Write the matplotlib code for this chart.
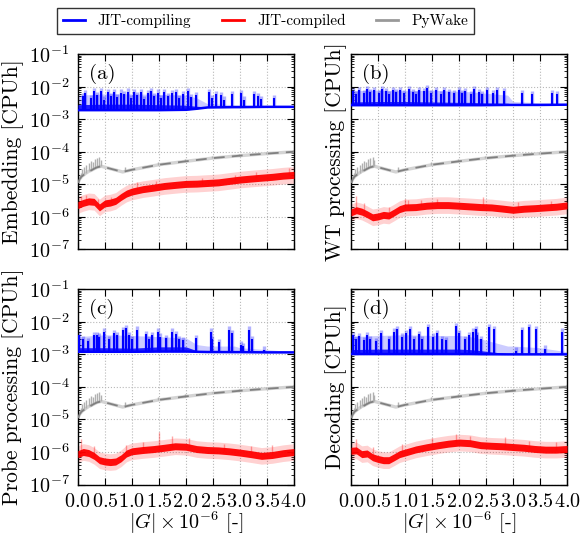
import numpy as np
import matplotlib
matplotlib.use('Agg')
import matplotlib.pyplot as plt
from matplotlib.lines import Line2D
from matplotlib.ticker import LogLocator, NullFormatter

plt.rcParams.update({
    'font.family': ['cmr10', 'DejaVu Serif'],
    'mathtext.fontset': 'cm',
    'axes.formatter.use_mathtext': True,
    'axes.unicode_minus': False,
})

# ---------------- data ----------------
panel_tags = ['(a)', '(b)', '(c)', '(d)']
ylabels = ['Embedding [CPUh]', 'WT processing [CPUh]',
           'Probe processing [CPUh]', 'Decoding [CPUh]']
series_names = ['JIT-compiling', 'JIT-compiled', 'PyWake']
xticks = [0.0, 0.5, 1.0, 1.5, 2.0, 2.5, 3.0, 3.5, 4.0]

# JIT-compiled (red) central values
RX = [0.0, 0.1, 0.2, 0.3, 0.4, 0.5, 0.6, 0.7, 0.8, 0.9, 1.0, 1.2, 1.4, 1.6,
      1.8, 2.0, 2.2, 2.4, 2.6, 2.8, 3.0, 3.2, 3.4, 3.6, 3.8, 4.0]
red_a = [2.3e-6, 2.7e-6, 3.0e-6, 2.9e-6, 1.95e-6, 2.6e-6, 2.75e-6, 3.1e-6, 4.1e-6,
         5.2e-6, 6.0e-6, 7.1e-6, 7.9e-6, 8.9e-6, 9.6e-6, 1.03e-5, 1.05e-5, 1.1e-5,
         1.15e-5, 1.27e-5, 1.4e-5, 1.5e-5, 1.6e-5, 1.7e-5, 1.85e-5, 1.95e-5]
red_b = [1.37e-6, 1.6e-6, 1.45e-6, 1.2e-6, 9.7e-7, 1.03e-6, 1.15e-6, 1.1e-6, 1.37e-6,
         1.73e-6, 1.95e-6, 2.0e-6, 2.2e-6, 2.3e-6, 2.3e-6, 2.2e-6, 2.1e-6, 2.0e-6,
         1.95e-6, 1.8e-6, 1.65e-6, 1.78e-6, 1.85e-6, 1.95e-6, 2.05e-6, 2.25e-6]
red_c = [8.6e-7, 1.0e-6, 9.3e-7, 7.6e-7, 5.6e-7, 5.1e-7, 4.9e-7, 5.1e-7, 6.4e-7,
         9.0e-7, 1.05e-6, 1.15e-6, 1.23e-6, 1.35e-6, 1.5e-6, 1.45e-6, 1.23e-6, 1.15e-6,
         1.12e-6, 1.05e-6, 9.6e-7, 8.6e-7, 7.6e-7, 8.1e-7, 9.2e-7, 1.0e-6]
red_d = [1.09e-6, 1.12e-6, 8.6e-7, 9.0e-7, 6.9e-7, 6.1e-7, 5.6e-7, 5.6e-7, 6.9e-7,
         8.6e-7, 9.6e-7, 1.2e-6, 1.4e-6, 1.6e-6, 1.8e-6, 1.95e-6, 1.87e-6, 1.62e-6,
         1.55e-6, 1.5e-6, 1.42e-6, 1.35e-6, 1.24e-6, 1.18e-6, 1.18e-6, 1.24e-6]
red_inner_spread = 1.28   # multiplicative spread of the dense band
red_outer_spread = 1.8    # multiplicative spread of the run-to-run band
red_spk_x = [[0.05, 0.15, 0.38, 0.62, 1.1, 1.45, 2.3, 2.9, 3.3, 3.9],
             [0.1, 0.25, 0.7, 1.0, 1.05, 1.3, 1.6, 2.45, 3.1, 3.7],
             [0.05, 0.3, 0.9, 1.2, 1.5, 1.75, 2.05, 2.7, 3.2, 3.6],
             [0.1, 0.4, 0.95, 1.5, 1.95, 2.2, 2.85, 3.3, 3.8]]
red_spk_y = [[4.5e-6, 4.8e-6, 3.5e-6, 4.2e-6, 1.2e-5, 1.3e-5, 1.6e-5, 1.9e-5, 2.4e-5, 3.2e-5],
             [4.5e-6, 2.6e-6, 2.0e-6, 3.6e-6, 3.2e-6, 3.4e-6, 3.5e-6, 4.2e-6, 2.8e-6, 3.0e-6],
             [2.5e-6, 1.5e-6, 1.6e-6, 2.0e-6, 4.0e-6, 3.0e-6, 2.6e-6, 1.8e-6, 1.5e-6, 1.6e-6],
             [2.5e-6, 1.4e-6, 1.8e-6, 2.6e-6, 3.6e-6, 3.0e-6, 2.8e-6, 2.2e-6, 2.0e-6]]

# JIT-compiling (blue)
BX = [0.0, 0.5, 1.0, 1.5, 2.0, 2.2, 2.4, 2.9, 3.0, 3.5, 4.0]
blue_base = [
    [1.9e-3, 1.9e-3, 1.9e-3, 1.9e-3, 1.95e-3, 2.1e-3, 2.3e-3, 2.35e-3, 2.35e-3, 2.4e-3, 2.4e-3],
    [2.7e-3, 2.7e-3, 2.7e-3, 2.7e-3, 2.7e-3, 2.7e-3, 2.7e-3, 2.75e-3, 2.75e-3, 2.75e-3, 2.8e-3],
    [1.2e-3, 1.2e-3, 1.2e-3, 1.22e-3, 1.22e-3, 1.2e-3, 1.18e-3, 1.17e-3, 1.17e-3, 1.15e-3, 1.15e-3],
    [1.02e-3, 1.02e-3, 1.02e-3, 1.02e-3, 1.02e-3, 1.02e-3, 1.01e-3, 1.0e-3, 1.0e-3, 1.0e-3, 1.0e-3],
]
blue_mass = [
    [2.8e-3, 2.9e-3, 2.9e-3, 2.8e-3, 2.7e-3, 2.5e-3, 2.4e-3, 2.4e-3, 2.4e-3, 2.45e-3, 2.45e-3],
    [3.4e-3, 3.5e-3, 3.5e-3, 3.4e-3, 3.3e-3, 3.3e-3, 3.2e-3, 3.1e-3, 2.9e-3, 2.85e-3, 2.85e-3],
    [1.6e-3, 1.6e-3, 1.55e-3, 1.7e-3, 1.7e-3, 1.3e-3, 1.25e-3, 1.22e-3, 1.2e-3, 1.18e-3, 1.18e-3],
    [1.4e-3, 1.45e-3, 1.45e-3, 1.45e-3, 1.45e-3, 1.4e-3, 1.3e-3, 1.05e-3, 1.05e-3, 1.03e-3, 1.03e-3],
]
blue_env = [
    [5.5e-3, 6.0e-3, 6.0e-3, 5.8e-3, 5.5e-3, 4.5e-3, 3.0e-3, 2.8e-3, 2.8e-3, 2.6e-3, 2.5e-3],
    [7.5e-3, 7.8e-3, 7.5e-3, 7.8e-3, 7.2e-3, 7.0e-3, 6.5e-3, 5.5e-3, 3.5e-3, 3.2e-3, 3.0e-3],
    [3.5e-3, 4.0e-3, 3.8e-3, 3.5e-3, 3.2e-3, 2.0e-3, 1.8e-3, 1.8e-3, 1.6e-3, 1.4e-3, 1.2e-3],
    [3.5e-3, 3.8e-3, 4.0e-3, 3.8e-3, 3.8e-3, 3.5e-3, 3.0e-3, 1.8e-3, 1.8e-3, 1.6e-3, 1.2e-3],
]
blue_spk_x = [
    [0.09, 0.14, 0.24, 0.30, 0.36, 0.42, 0.49, 0.55, 0.61, 0.67, 0.73, 0.80, 0.86, 0.92,
     0.98, 1.04, 1.10, 1.17, 1.23, 1.29, 1.35, 1.41, 1.48, 1.54, 1.60, 1.66, 1.75, 1.82,
     1.88, 1.94, 2.03, 2.09, 2.19, 2.43, 2.49, 2.56, 2.65, 2.71, 2.86, 3.02, 3.08, 3.27,
     3.33, 3.39, 3.64],
    [0.04, 0.09, 0.15, 0.24, 0.30, 0.35, 0.43, 0.52, 0.58, 0.65, 0.70, 0.77, 0.83, 0.90,
     0.98, 1.07, 1.15, 1.20, 1.26, 1.35, 1.40, 1.48, 1.57, 1.66, 1.72, 1.81, 1.91, 2.00,
     2.06, 2.12, 2.22, 2.28, 2.37, 2.43, 2.52, 2.62, 2.71, 2.83, 3.17, 3.36, 3.73, 3.82],
    [0.025, 0.09, 0.18, 0.30, 0.35, 0.40, 0.49, 0.58, 0.67, 0.72, 0.83, 0.89, 0.94, 1.01,
     1.09, 1.27, 1.31, 1.38, 1.48, 1.52, 1.63, 1.75, 1.81, 1.88, 1.94, 2.19, 2.46, 2.49,
     2.62, 2.80, 2.86, 3.02, 3.05, 3.17, 3.22, 3.45],
    [0.04, 0.09, 0.15, 0.24, 0.30, 0.36, 0.46, 0.55, 0.70, 0.80, 0.86, 0.95, 1.01, 1.10,
     1.17, 1.26, 1.32, 1.43, 1.51, 1.60, 1.69, 1.75, 1.94, 2.00, 2.12, 2.19, 2.25, 2.31,
     2.34, 2.40, 2.56, 2.65, 3.05, 3.17, 3.30, 3.42, 3.60, 3.91],
]
blue_spk_y = [
    [5.0e-3, 6.5e-3, 4.5e-3, 7.2e-3, 5.5e-3, 7.3e-3, 4.0e-3, 6.8e-3, 5.2e-3, 7.0e-3,
     4.8e-3, 6.6e-3, 5.8e-3, 7.1e-3, 4.5e-3, 6.9e-3, 5.5e-3, 7.0e-3, 4.2e-3, 6.3e-3,
     7.2e-3, 5.0e-3, 6.6e-3, 4.6e-3, 6.9e-3, 5.2e-3, 6.5e-3, 7.0e-3, 4.4e-3, 6.0e-3,
     7.3e-3, 4.8e-3, 5.6e-3, 7.0e-3, 4.5e-3, 6.0e-3, 5.5e-3, 4.0e-3, 5.8e-3, 6.5e-3,
     4.0e-3, 6.0e-3, 5.0e-3, 4.2e-3, 4.5e-3],
    [7.5e-3, 6.0e-3, 8.0e-3, 6.5e-3, 8.2e-3, 7.0e-3, 8.0e-3, 6.2e-3, 8.3e-3, 7.2e-3,
     6.0e-3, 8.0e-3, 6.8e-3, 7.8e-3, 6.5e-3, 8.2e-3, 7.0e-3, 6.0e-3, 8.0e-3, 7.5e-3,
     9.3e-3, 6.5e-3, 7.8e-3, 6.0e-3, 8.0e-3, 7.0e-3, 6.2e-3, 8.0e-3, 6.5e-3, 7.5e-3,
     6.0e-3, 8.2e-3, 7.0e-3, 6.0e-3, 7.8e-3, 6.5e-3, 8.0e-3, 7.2e-3, 6.5e-3, 6.0e-3,
     6.3e-3, 6.0e-3],
    [4.0e-3, 3.0e-3, 2.6e-3, 3.8e-3, 4.0e-3, 3.5e-3, 5.0e-3, 3.0e-3, 4.5e-3, 4.0e-3,
     5.5e-3, 6.3e-3, 4.0e-3, 3.0e-3, 5.8e-3, 4.2e-3, 3.0e-3, 3.8e-3, 5.0e-3, 3.5e-3,
     3.2e-3, 5.0e-3, 4.2e-3, 3.0e-3, 2.8e-3, 3.2e-3, 5.0e-3, 3.0e-3, 2.4e-3, 5.8e-3,
     4.5e-3, 2.0e-3, 1.8e-3, 5.8e-3, 3.0e-3, 1.4e-3],
    [4.0e-3, 3.0e-3, 3.6e-3, 2.8e-3, 4.0e-3, 3.0e-3, 2.5e-3, 4.5e-3, 3.0e-3, 5.0e-3,
     6.0e-3, 3.5e-3, 4.5e-3, 6.0e-3, 3.0e-3, 4.2e-3, 3.0e-3, 7.0e-3, 3.5e-3, 4.5e-3,
     3.0e-3, 2.8e-3, 7.2e-3, 4.5e-3, 3.0e-3, 4.0e-3, 5.0e-3, 6.0e-3, 4.0e-3, 3.0e-3,
     7.0e-3, 6.0e-3, 1.3e-3, 5.5e-3, 7.0e-3, 6.0e-3, 1.5e-3, 5.0e-3],
]
blue_peak_ratio = 1.25  # run maximum relative to plotted mean at a spike

# PyWake (grey)
PX = [0.0, 0.03, 0.06, 0.10, 0.15, 0.20, 0.25, 0.30, 0.35, 0.43, 0.83, 1.0, 1.5,
      2.0, 2.5, 3.0, 3.5, 4.0]
PY = [1.1e-5, 1.4e-5, 1.7e-5, 1.9e-5, 2.2e-5, 2.5e-5, 2.7e-5, 3.0e-5, 3.3e-5, 3.6e-5,
      2.4e-5, 2.8e-5, 4.0e-5, 5.1e-5, 6.4e-5, 7.6e-5, 8.8e-5, 1.0e-4]
pw_spk_x = [0.05, 0.08, 0.12, 0.16, 0.20, 0.24, 0.28, 0.32, 0.36, 0.40, 0.42,
            0.87, 1.48, 1.98, 2.48, 2.98, 3.48, 3.98]
pw_spk_y = [2.2e-5, 3.0e-5, 3.5e-5, 4.0e-5, 4.5e-5, 5.2e-5, 4.8e-5, 6.0e-5, 6.5e-5,
            6.8e-5, 5.5e-5, 3.4e-5, 4.8e-5, 6.0e-5, 7.2e-5, 8.4e-5, 9.6e-5, 1.15e-4]

red_sets = [red_a, red_b, red_c, red_d]

# ---------------- figure ----------------
fig, axes = plt.subplots(2, 2, figsize=(5.81, 5.36), dpi=100, sharex=True, sharey=True)
fig.subplots_adjust(left=0.134, right=0.976, top=0.899, bottom=0.096,
                    wspace=0.264, hspace=0.204)

BLUE = '#0000ff'
RED = '#ff0000'

for k, ax in enumerate(axes.flat):
    # blue
    base = np.array(blue_base[k])
    ax.fill_between(BX, base, blue_env[k], color=BLUE, alpha=0.2, lw=0, zorder=2)
    ax.fill_between(BX, base, blue_mass[k], color=BLUE, alpha=0.85, lw=0, zorder=3)
    sx = np.array(blue_spk_x[k])
    sy = np.array(blue_spk_y[k])
    sb = np.interp(sx, BX, base)
    ax.vlines(sx, sb, sy * blue_peak_ratio, color=BLUE, alpha=0.3, lw=2.4, zorder=2)
    ax.vlines(sx, sb, sy, color=BLUE, lw=1.5, zorder=3)
    ax.plot(BX, base, color=BLUE, lw=1.8, zorder=4)

    # grey
    ax.plot(PX, PY, color='#d4d4d4', lw=2.4, solid_capstyle='butt', zorder=2)
    px = np.array(pw_spk_x)
    pb = np.interp(px, PX, PY)
    ax.vlines(px, pb, pw_spk_y, color='#b0b0b0', lw=1.0, zorder=2)
    ax.plot(PX, PY, color='#808080', lw=1.3, dashes=(6, 4), zorder=3)

    # red
    r = np.array(red_sets[k])
    ax.fill_between(RX, r / red_outer_spread, r * red_outer_spread,
                    color=RED, alpha=0.18, lw=0, zorder=2)
    ax.fill_between(RX, r / red_inner_spread, r * red_inner_spread,
                    color=RED, alpha=0.95, lw=0, zorder=3)
    rx = np.array(red_spk_x[k])
    rb = np.interp(rx, RX, r)
    ax.vlines(rx, rb, red_spk_y[k], color=RED, alpha=0.35, lw=1.0, zorder=3)

    ax.set_yscale('log')
    ax.set_ylim(1e-7, 1e-1)
    ax.set_xlim(0, 4.0)
    ax.set_xticks(xticks)
    ax.yaxis.set_major_locator(LogLocator(base=10, numticks=10))
    ax.yaxis.set_minor_locator(LogLocator(base=10, subs=np.arange(2, 10), numticks=20))
    ax.yaxis.set_minor_formatter(NullFormatter())
    ax.grid(True, which='major', color='#b8b8b8', linestyle=':', lw=0.8, zorder=0)
    ax.tick_params(which='both', direction='in', top=True, right=True)
    ax.tick_params(which='major', length=5, width=0.8, labelsize=14.5, pad=6)
    ax.tick_params(which='minor', length=2.5, width=0.6)
    for s in ax.spines.values():
        s.set_linewidth(1.0)
    ax.set_ylabel(ylabels[k], fontsize=15.5, labelpad=3)
    ax.text(0.05, 0.95, panel_tags[k], transform=ax.transAxes, fontsize=15,
            ha='left', va='top', zorder=6)
    if k >= 2:
        ax.set_xlabel(r'$|G| \times 10^{-6}$ [-]', fontsize=14.5, labelpad=-1)
        ax.tick_params(axis='x', labelbottom=True)
    else:
        ax.tick_params(axis='x', labelbottom=False)
    if k % 2 == 1:
        ax.tick_params(axis='y', labelleft=False)
    else:
        ax.tick_params(axis='y', labelleft=True)

handles = [Line2D([], [], color=BLUE, lw=2),
           Line2D([], [], color=RED, lw=2),
           Line2D([], [], color='#999999', lw=2)]
leg = fig.legend(handles, series_names, loc='center', bbox_to_anchor=(0.457, 0.961),
                 ncol=3, fontsize=11, frameon=True, fancybox=False, edgecolor='black',
                 handlelength=1.45, handletextpad=0.85, columnspacing=2.0,
                 borderpad=0.4)
leg.get_frame().set_linewidth(1.0)

fig.savefig('out.png', dpi=100)
